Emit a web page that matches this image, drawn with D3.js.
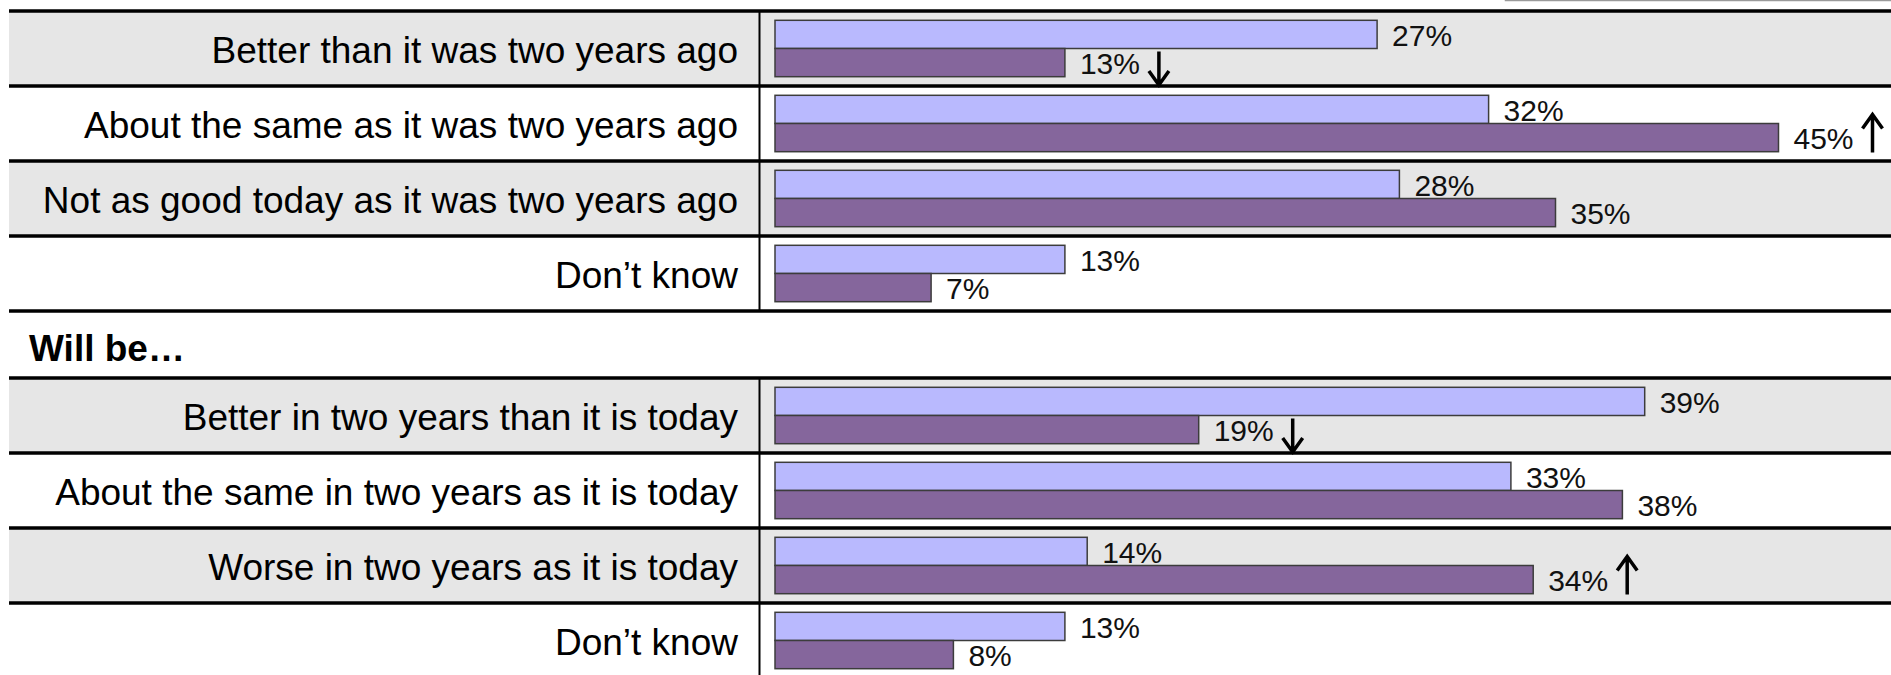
<!DOCTYPE html>
<html>
<head>
<meta charset="utf-8">
<script src="https://cdn.jsdelivr.net/npm/d3@7"></script>
<style>
  html, body { margin: 0; padding: 0; background: #fff; }
  svg { display: block; font-family: "Liberation Sans", Arial, sans-serif; }
</style>
</head>
<body>
<svg id="chart" width="1891" height="675"></svg>
<script>
// Answers, section 1 (compared with two years ago)
const pastCategories = [
  "Better than it was two years ago",
  "About the same as it was two years ago",
  "Not as good today as it was two years ago",
  "Don\u2019t know"
];
const pastEarlier = [27, 32, 28, 13];
const pastLater   = [13, 45, 35, 7];
const pastChange  = ["down", "up", "", ""];

// Answers, section 2 (outlook for the next two years)
const futureTitle = "Will be\u2026";
const futureCategories = [
  "Better in two years than it is today",
  "About the same in two years as it is today",
  "Worse in two years as it is today",
  "Don\u2019t know"
];
const futureEarlier = [39, 33, 14, 13];
const futureLater   = [19, 38, 34, 8];
const futureChange  = ["down", "", "up", ""];

const seriesKeys = ["earlier", "later"];
const seriesColors = ["#b9b9fe", "#85669c"];

const W = 1891, H = 675;
const svg = d3.select("#chart");

const left = 9, divider = 759.5, labelRight = 738;
const x = d3.scaleLinear().domain([0, 50]).range([775, 1890]);

const sections = [
  { top: 11, bottom: 311, cats: pastCategories, a: pastEarlier, b: pastLater, chg: pastChange },
  { top: 378, bottom: 678, cats: futureCategories, a: futureEarlier, b: futureLater, chg: futureChange, title: futureTitle }
];

// Legend frame partly above the visible area
svg.append("rect")
  .attr("x", 1505.5).attr("y", -40).attr("width", 400).attr("height", 40.5)
  .attr("fill", "#fff").attr("stroke", "#9a9a9a").attr("stroke-width", 1.5);

sections.forEach(sec => {
  const rows = sec.cats.map((c, i) => ({ cat: c, earlier: sec.a[i], later: sec.b[i], change: sec.chg[i], i }));
  const y = d3.scaleBand().domain(sec.cats).range([sec.top, sec.bottom]).padding(0);
  const inner = d3.scaleBand().domain(seriesKeys).range([0, y.bandwidth()]).paddingInner(0).paddingOuter(0.33);

  const g = svg.append("g");

  // alternating row shading
  g.selectAll("rect.band").data(rows).join("rect")
    .attr("class", "band")
    .attr("x", left).attr("width", W - left)
    .attr("y", d => y(d.cat)).attr("height", y.bandwidth())
    .attr("fill", d => d.i % 2 === 0 ? "#e6e6e6" : "#ffffff");

  // category labels
  g.selectAll("text.cat").data(rows).join("text")
    .attr("class", "cat")
    .attr("x", labelRight)
    .attr("y", d => y(d.cat) + y.bandwidth() / 2 + 14)
    .attr("text-anchor", "end")
    .attr("font-size", 37)
    .attr("fill", "#000")
    .text(d => d.cat);

  // bars
  seriesKeys.forEach((k, si) => {
    g.selectAll("rect.bar-" + k).data(rows).join("rect")
      .attr("class", "bar-" + k)
      .attr("x", x(0))
      .attr("y", d => y(d.cat) + inner(k))
      .attr("width", d => x(d[k]) - x(0))
      .attr("height", inner.bandwidth())
      .attr("fill", seriesColors[si])
      .attr("stroke", "#3c3c3c")
      .attr("stroke-width", 1.5);

    g.selectAll("text.val-" + k).data(rows).join("text")
      .attr("class", "val-" + k)
      .attr("x", d => x(d[k]) + 15)
      .attr("y", d => y(d.cat) + inner(k) + inner.bandwidth() / 2 + 11.5)
      .attr("font-size", 30)
      .attr("fill", "#111")
      .text(d => d[k] + "%");
  });

  // significant-change arrows next to the later value
  const arrows = rows.filter(d => d.change);
  g.selectAll("path.arrow").data(arrows).join("path")
    .attr("class", "arrow")
    .attr("fill", "none")
    .attr("stroke", "#000")
    .attr("stroke-width", 3.5)
    .attr("stroke-linejoin", "miter")
    .attr("d", d => {
      const ax = x(d.later) + 94;
      const barTop = y(d.cat) + inner("later");
      if (d.change === "down") {
        const y0 = barTop + 3, y1 = y(d.cat) + y.bandwidth() - 1;
        return `M${ax},${y0}V${y1}M${ax - 10},${y1 - 14}L${ax},${y1}L${ax + 10},${y1 - 14}`;
      } else {
        const y0 = barTop - 9, y1 = y0 + 38;
        return `M${ax},${y1}V${y0}M${ax - 10},${y0 + 14}L${ax},${y0}L${ax + 10},${y0 + 14}`;
      }
    });

  // row separators
  const bounds = [sec.top].concat(rows.map(d => y(d.cat) + y.bandwidth()));
  g.selectAll("line.sep").data(bounds).join("line")
    .attr("class", "sep")
    .attr("x1", left).attr("x2", W)
    .attr("y1", d => d).attr("y2", d => d)
    .attr("stroke", "#000").attr("stroke-width", 3.5);

  // divider between labels and bars
  g.append("line")
    .attr("x1", divider).attr("x2", divider)
    .attr("y1", sec.top).attr("y2", sec.bottom)
    .attr("stroke", "#000").attr("stroke-width", 2);

  if (sec.title) {
    svg.append("text")
      .attr("x", 29).attr("y", 361)
      .attr("font-size", 37).attr("font-weight", "bold")
      .attr("fill", "#000")
      .text(sec.title);
  }
});
</script>
</body>
</html>
